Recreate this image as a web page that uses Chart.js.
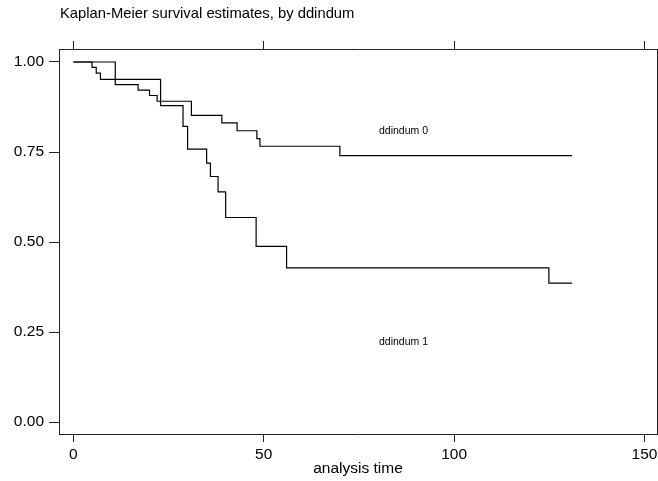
<!DOCTYPE html>
<html>
<head>
<meta charset="utf-8">
<script src="https://cdn.jsdelivr.net/npm/chart.js@4/dist/chart.umd.min.js"></script>
<style>
  html, body { margin: 0; padding: 0; background: #fff; }
  #wrap { width: 658px; height: 481px; position: relative; }
</style>
</head>
<body>
<div id="wrap"><canvas id="myChart"></canvas></div>
<script>
// survival steps
var times0 = [0, 11, 17, 20, 22, 31, 39, 43, 48.2, 49, 70, 131];
var surv0  = [1, 0.937, 0.922, 0.907, 0.891, 0.852, 0.831, 0.809, 0.787, 0.766, 0.740, 0.740];
var times1 = [0, 4.9, 6, 7.1, 22.9, 28.8, 30, 35, 36, 38, 40, 48, 56, 124.9, 131];
var surv1  = [1, 0.985, 0.969, 0.952, 0.879, 0.821, 0.758, 0.719, 0.682, 0.639, 0.568, 0.488, 0.428, 0.386, 0.386];
var groups = ["ddindum 0", "ddindum 1"];
var xTicks = [0, 50, 100, 150];
var yTicks = [0, 0.25, 0.5, 0.75, 1];

function pts(t, s) {
  return t.map(function(v, i) { return {x: v, y: s[i]}; });
}

var font = "'Liberation Sans', Arial, sans-serif";
var frameCol = '#222';

var textPlugin = {
  id: 'texts',
  afterDraw: function(chart) {
    var c = chart.ctx;
    c.save();
    c.fillStyle = '#000';
    c.textBaseline = 'middle';
    c.font = '14.8px ' + font;
    c.fillText("Kaplan-Meier survival estimates, by ddindum", 60, 14);
    c.font = '10.5px ' + font;
    c.fillText(groups[0], 379, 131);
    c.fillText(groups[1], 379, 342);
    c.restore();
  }
};

var ctx = document.getElementById('myChart').getContext('2d');
var myChart = new Chart(ctx, {
  type: 'line',
  data: {
    datasets: [
      { label: groups[0], data: pts(times0, surv0), stepped: true },
      { label: groups[1], data: pts(times1, surv1), stepped: true }
    ]
  },
  options: {
    responsive: true,
    maintainAspectRatio: false,
    animation: false,
    layout: { padding: 0 },
    elements: {
      point: { radius: 0 },
      line: { borderColor: '#000', borderWidth: 1.2 }
    },
    plugins: { legend: { display: false }, tooltip: { enabled: false } },
    scales: {
      x: {
        type: 'linear', position: 'bottom', min: -3.78, max: 153.3,
        afterBuildTicks: function(s) { s.ticks = xTicks.map(function(v) { return {value: v}; }); },
        afterFit: function(s) { s.height = 47; s.paddingLeft = 0; s.paddingRight = 0; },
        grid: { drawOnChartArea: false, drawTicks: true, tickLength: 8, color: frameCol },
        border: { color: frameCol, width: 1 },
        ticks: { color: '#000', padding: 3, font: { family: font, size: 15.5 }, maxRotation: 0 },
        title: { display: true, text: 'analysis time', color: '#000', padding: { top: 0, bottom: 3 },
                 font: { family: font, size: 15.5 } }
      },
      xTop: {
        type: 'linear', position: 'top', min: -3.78, max: 153.3,
        afterBuildTicks: function(s) { s.ticks = xTicks.map(function(v) { return {value: v}; }); },
        afterFit: function(s) { s.height = 49; s.paddingLeft = 0; s.paddingRight = 0; },
        grid: { drawOnChartArea: false, drawTicks: true, tickLength: 8, color: frameCol },
        border: { color: frameCol, width: 1 },
        ticks: { display: false }
      },
      y: {
        type: 'linear', position: 'left', min: -0.0333, max: 1.0361,
        afterBuildTicks: function(s) { s.ticks = yTicks.map(function(v) { return {value: v}; }); },
        afterFit: function(s) { s.width = 59; },
        grid: { drawOnChartArea: false, drawTicks: true, tickLength: 10, color: frameCol },
        border: { color: frameCol, width: 1 },
        ticks: { color: '#000', padding: 5, font: { family: font, size: 15.5 },
                 callback: function(v) { return Number(v).toFixed(2); } }
      },
      yRight: {
        type: 'linear', position: 'right', min: -0.0333, max: 1.0361,
        afterFit: function(s) { s.width = 1; },
        grid: { display: false },
        border: { color: frameCol, width: 1 },
        ticks: { display: false }
      }
    }
  },
  plugins: [textPlugin]
});
</script>
</body>
</html>
